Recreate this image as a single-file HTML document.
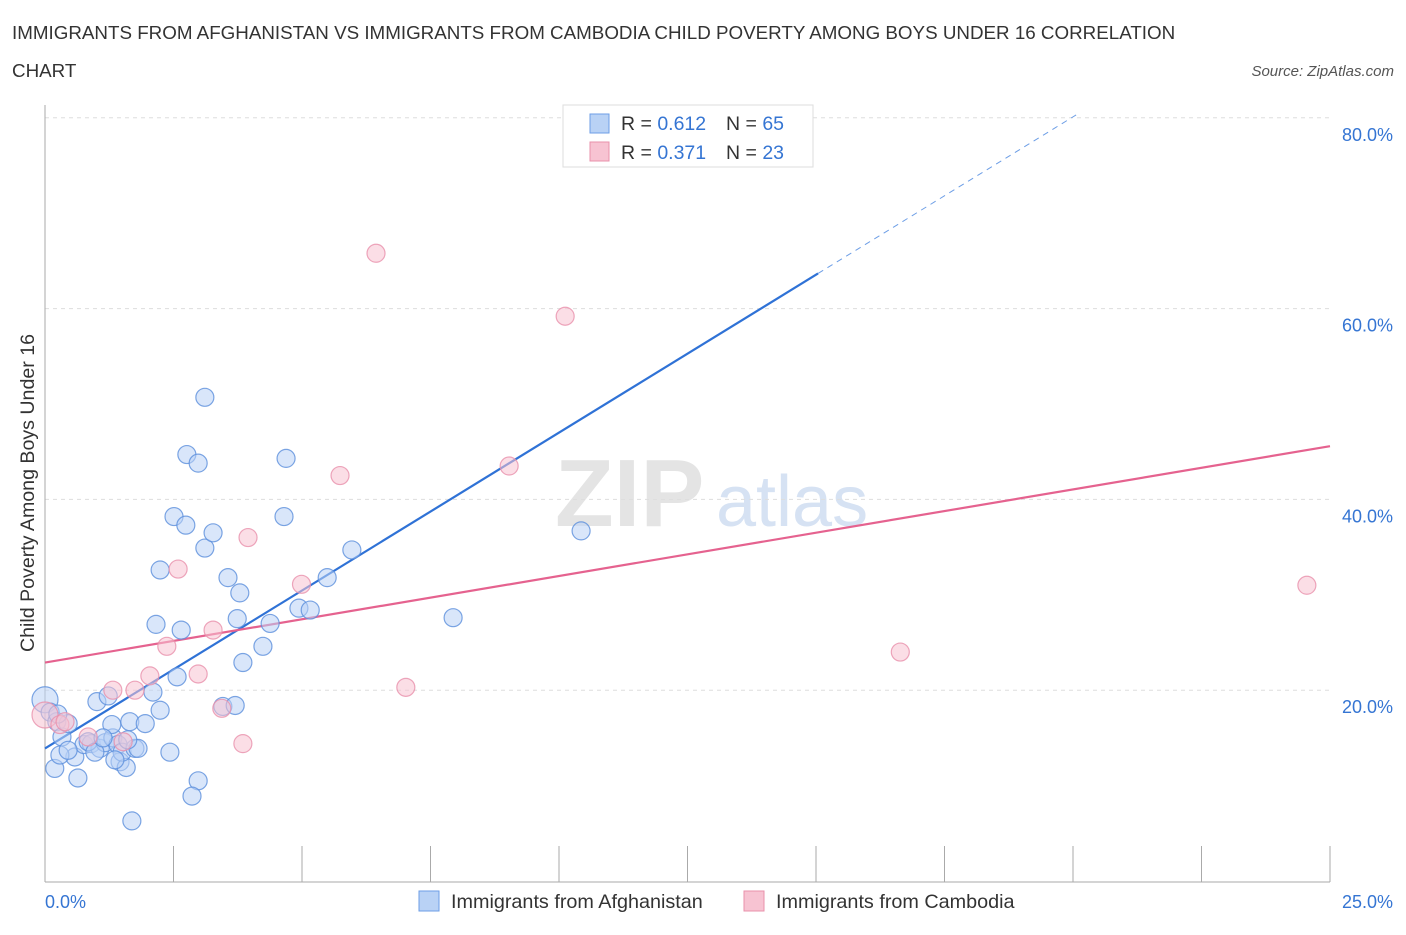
<!DOCTYPE html>
<html><head><meta charset="utf-8"><style>
body{margin:0;background:#fff;font-family:"Liberation Sans",sans-serif;}
svg text{font-family:"Liberation Sans",sans-serif;}
</style></head><body>
<svg id="chart" width="1406" height="930" xmlns="http://www.w3.org/2000/svg">
<text x="12" y="39" font-size="18.8" fill="#333">IMMIGRANTS FROM AFGHANISTAN VS IMMIGRANTS FROM CAMBODIA CHILD POVERTY AMONG BOYS UNDER 16 CORRELATION</text>
<text x="12" y="77" font-size="18.8" fill="#333">CHART</text>
<text x="1394" y="76" font-size="15" fill="#555" text-anchor="end" font-style="italic">Source: ZipAtlas.com</text>
<text x="555" y="526" font-size="96" fill="#e4e4e4" font-family="Liberation Serif" font-weight="bold">ZIP</text>
<text x="716" y="526" font-size="72" fill="#d6e2f3">atlas</text>
<g id="grid"></g><g id="axes"></g><g id="lines"></g><g id="pts"></g>
<text transform="translate(34,493) rotate(-90)" font-size="19.6" fill="#333" text-anchor="middle">Child Poverty Among Boys Under 16</text>
<g>
<rect x="563" y="105" width="250" height="62" fill="#fff" stroke="#ddd"/>
<rect x="590" y="114" width="19" height="19" fill="#b9d2f5" stroke="#6d9ee6"/>
<text x="621" y="130" font-size="19.5" fill="#333">R = <tspan fill="#3575d3">0.612</tspan></text>
<text x="726" y="130" font-size="19.5" fill="#333">N = <tspan fill="#3575d3">65</tspan></text>
<rect x="590" y="142" width="19" height="19" fill="#f7c3d2" stroke="#e990ab"/>
<text x="621" y="159" font-size="19.5" fill="#333">R = <tspan fill="#3575d3">0.371</tspan></text>
<text x="726" y="159" font-size="19.5" fill="#333">N = <tspan fill="#3575d3">23</tspan></text>
</g>
<g><rect x="419" y="891" width="20" height="20" fill="#b9d2f5" stroke="#6d9ee6"/><text x="451" y="908" font-size="19.8" fill="#333">Immigrants from Afghanistan</text></g>
<g><rect x="744" y="891" width="20" height="20" fill="#f7c3d2" stroke="#e990ab"/><text x="776" y="908" font-size="19.8" fill="#333">Immigrants from Cambodia</text></g>
</svg>
<script>
const yTicks=[20,40,60,80];
const yTickLabels=["20.0%","40.0%","60.0%","80.0%"];
const xEndLabels=["0.0%","25.0%"];
const blueX=[0,0.1,0.23,0.33,0.45,0.19,0.58,0.64,0.29,0.76,0.9,1.01,1.07,1.23,1.17,1.32,1.3,1.42,1.46,1.58,1.5,1.65,1.75,1.81,1.95,2.1,2.24,2.43,2.57,2.65,2.16,2.98,2.86,1.69,2.24,2.51,2.74,2.76,2.98,3.11,3.11,3.27,3.56,3.79,3.74,3.85,3.46,3.7,4.24,4.38,4.94,5.16,4.69,4.65,5.49,5.97,7.94,10.43,0.25,0.45,0.84,1.36,0.97,1.13,1.61];
const blueY=[19,17.7,16.7,15.1,16.5,11.8,13,10.8,13.2,14.3,14.4,18.8,13.9,19.4,14.5,15,16.4,14.3,12.5,11.9,13.5,16.7,13.9,13.9,16.5,19.8,17.9,13.5,21.4,26.3,26.9,10.5,8.9,6.3,32.6,38.2,37.3,44.7,43.8,50.7,34.9,36.5,31.8,30.2,27.5,22.9,18.3,18.4,24.6,27,28.6,28.4,44.3,38.2,31.8,34.7,27.6,36.7,17.5,13.7,14.6,12.7,13.5,15,14.8];
const pinkX=[0,0.29,0.39,0.84,1.32,1.52,1.75,2.04,2.37,2.59,2.98,3.27,3.44,3.85,3.95,4.99,5.74,6.44,7.02,9.03,10.12,16.64,24.55];
const pinkY=[17.4,16.4,16.7,15.1,20,14.6,20,21.5,24.6,32.7,21.7,26.3,18.1,14.4,36,31.1,42.5,65.8,20.3,43.5,59.2,24,31];
const blueTrend=[13.9,3.31];
const pinkTrend=[22.9,0.9072];
const X=v=>45+v*1285/25, Y=v=>881-v*9.54;
const NS="http://www.w3.org/2000/svg";
function mk(p,t,a){const e=document.createElementNS(NS,t);for(const k in a)e.setAttribute(k,a[k]);document.getElementById(p).appendChild(e);return e;}
yTicks.forEach((t,i)=>{
 const g=mk('grid','line',{x1:45,x2:1330,y1:Y(t),y2:Y(t),stroke:'#ddd','stroke-dasharray':'4,4'});
 
 
 const l=mk('axes','text',{x:1393,y:Y(t)+23,'font-size':18,fill:'#3575d3','text-anchor':'end'});l.textContent=yTickLabels[i];
 
 
});
const ya=mk('axes','line',{x1:45,x2:45,y1:105,y2:882,stroke:'#aaa'});


const xa=mk('axes','line',{x1:45,x2:1330,y1:882,y2:882,stroke:'#aaa'});


for(let i=0;i<=10;i++){const t=mk('axes','line',{x1:X(i*2.5),x2:X(i*2.5),y1:846,y2:882,stroke:'#aaa'});
 
 }
[[0,45,'start'],[25,1393,'end']].forEach((d,i)=>{const t=mk('axes','text',{x:d[1],y:908,'font-size':18,fill:'#3575d3','text-anchor':d[2]});t.textContent=xEndLabels[i];
 
 });
function dots(xs,ys,fill,stroke,name){xs.forEach((x,i)=>{const c=mk('pts','circle',{cx:X(x),cy:Y(ys[i]),r:(x===0?13:9),fill:fill,'fill-opacity':0.55,stroke:stroke,'stroke-width':1.2,'stroke-opacity':0.8});
 
 });}
dots(blueX,blueY,'#b9d2f5','#5b8fdc','afghanistan-point');
dots(pinkX,pinkY,'#f7c3d2','#e990ab','cambodia-point');
const bEnd=15.04,bDash=(80.3-blueTrend[0])/blueTrend[1];
const bl=mk('lines','line',{x1:X(0),y1:Y(blueTrend[0]),x2:X(bEnd),y2:Y(blueTrend[0]+blueTrend[1]*bEnd),stroke:'#2f72d6','stroke-width':2.2});


const bd=mk('lines','line',{x1:X(bEnd),y1:Y(blueTrend[0]+blueTrend[1]*bEnd),x2:X(bDash),y2:Y(80.3),stroke:'#6d9ee6','stroke-width':1,'stroke-dasharray':'6,5'});


const pl=mk('lines','line',{x1:X(0),y1:Y(pinkTrend[0]),x2:X(25),y2:Y(pinkTrend[0]+pinkTrend[1]*25),stroke:'#e5628f','stroke-width':2.2});


</script>
</body></html>
